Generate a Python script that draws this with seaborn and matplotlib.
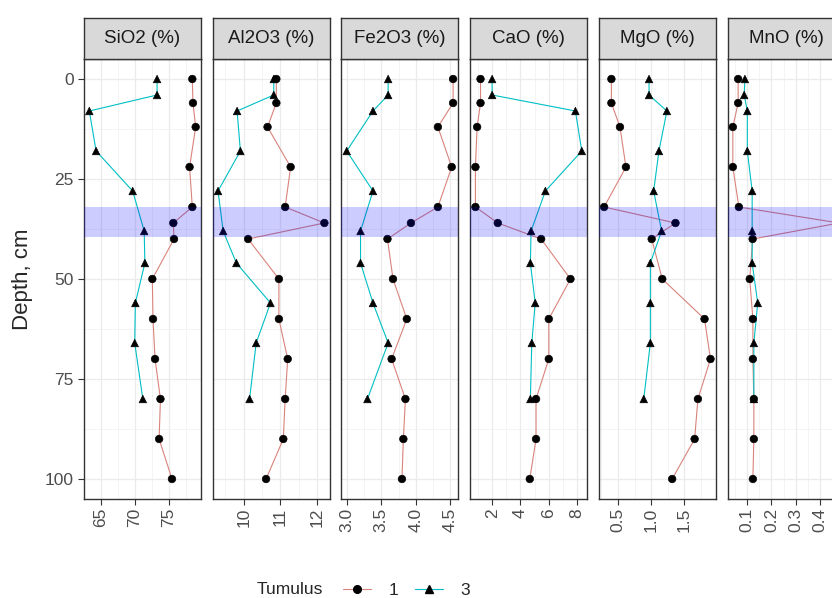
import pandas as pd
import numpy as np
import matplotlib.pyplot as plt
import seaborn as sns
from matplotlib.lines import Line2D
from matplotlib.ticker import AutoMinorLocator

# depths (cm) sampled in each tumulus
depth_t1 = [0, 6, 12, 22, 32, 36, 40, 50, 60, 70, 80, 90, 100]
depth_t3 = [0, 4, 8, 18, 28, 38, 46, 56, 66, 80]

oxides = ["SiO2 (%)", "Al2O3 (%)", "Fe2O3 (%)", "CaO (%)", "MgO (%)", "MnO (%)"]

sio2_t1 = [78.5, 78.6, 79.0, 78.1, 78.5, 75.7, 75.8, 72.6, 72.7, 73.0, 73.8, 73.6, 75.5]
sio2_t3 = [73.3, 73.3, 63.3, 64.3, 69.7, 71.4, 71.5, 70.1, 70.0, 71.2]
al2o3_t1 = [10.89, 10.89, 10.65, 11.28, 11.13, 12.2, 10.12, 10.96, 10.96, 11.2, 11.13, 11.08, 10.61]
al2o3_t3 = [10.82, 10.82, 9.82, 9.91, 9.3, 9.44, 9.8, 10.73, 10.34, 10.16]
fe2o3_t1 = [4.54, 4.54, 4.32, 4.52, 4.32, 3.93, 3.59, 3.67, 3.87, 3.65, 3.85, 3.82, 3.80]
fe2o3_t3 = [3.6, 3.6, 3.38, 3.0, 3.38, 3.2, 3.2, 3.38, 3.6, 3.3]
cao_t1 = [1.18, 1.18, 0.94, 0.82, 0.82, 2.4, 5.46, 7.53, 6.0, 6.0, 5.1, 5.1, 4.66]
cao_t3 = [2.0, 2.0, 7.88, 8.33, 5.76, 4.75, 4.7, 5.04, 4.8, 4.7]
mgo_t1 = [0.40, 0.40, 0.53, 0.62, 0.29, 1.37, 1.01, 1.17, 1.81, 1.90, 1.71, 1.66, 1.32]
mgo_t3 = [0.97, 0.97, 1.24, 1.12, 1.04, 1.16, 0.99, 0.99, 0.99, 0.89]
mno_t1 = [0.062, 0.062, 0.04, 0.04, 0.065, 0.48, 0.122, 0.11, 0.123, 0.123, 0.127, 0.127, 0.123]
mno_t3 = [0.09, 0.087, 0.1, 0.1, 0.12, 0.12, 0.12, 0.143, 0.127, 0.127]

values_t1 = [sio2_t1, al2o3_t1, fe2o3_t1, cao_t1, mgo_t1, mno_t1]
values_t3 = [sio2_t3, al2o3_t3, fe2o3_t3, cao_t3, mgo_t3, mno_t3]

x_ticks = [
    [65, 70, 75],
    [10, 11, 12],
    [3.0, 3.5, 4.0, 4.5],
    [2, 4, 6, 8],
    [0.5, 1.0, 1.5],
    [0.1, 0.2, 0.3, 0.4],
]
y_ticks = [0, 25, 50, 75, 100]
band = (32, 39.5)

rows = []
for ox, v1, v3 in zip(oxides, values_t1, values_t3):
    for d, v in zip(depth_t1, v1):
        rows.append({"Oxide": ox, "Tumulus": "1", "Depth": d, "Value": v})
    for d, v in zip(depth_t3, v3):
        rows.append({"Oxide": ox, "Tumulus": "3", "Depth": d, "Value": v})
df = pd.DataFrame(rows)

sns.set_theme(style="white")
plt.rcParams["font.family"] = ["Liberation Sans", "DejaVu Sans"]

palette = {"1": "#D9837B", "3": "#00BFC4"}
W, H = 832, 598
fig = plt.figure(figsize=(W / 100, H / 100), dpi=100)

panel_left0, panel_step, panel_w = 84, 128.7, 117
panel_top, panel_bot = 59, 499
strip_top = 18

for i, ox in enumerate(oxides):
    left = panel_left0 + i * panel_step
    ax = fig.add_axes([left / W, 1 - panel_bot / H, panel_w / W, (panel_bot - panel_top) / H])
    sub = df[df.Oxide == ox]
    sns.lineplot(data=sub, x="Value", y="Depth", hue="Tumulus", palette=palette,
                 sort=False, orient="y", estimator=None, legend=False,
                 linewidth=0.8, ax=ax, zorder=2)
    sns.scatterplot(data=sub, x="Value", y="Depth", style="Tumulus",
                    markers={"1": "o", "3": "^"}, color="black", edgecolor="black",
                    s=30, legend=False, ax=ax, zorder=3)
    ax.axhspan(band[0], band[1], color="blue", alpha=0.2, lw=0, zorder=5)
    ax.set_ylim(105, -5)
    ax.set_xticks(x_ticks[i])
    ax.xaxis.set_minor_locator(AutoMinorLocator(2))
    ax.set_yticks(y_ticks)
    ax.yaxis.set_minor_locator(AutoMinorLocator(2))
    ax.grid(which="major", color="#EBEBEB", lw=0.9)
    ax.grid(which="minor", color="#F2F2F2", lw=0.6)
    ax.set_axisbelow(True)
    for sp in ax.spines.values():
        sp.set_color("#333333")
        sp.set_linewidth(1.0)
    ax.tick_params(axis="x", rotation=90, labelsize=12.5, labelcolor="#4D4D4D",
                   length=4.5, width=0.8, color="#333333", bottom=True, pad=2)
    ax.tick_params(which="minor", length=0)
    ax.set_xlabel("")
    if i == 0:
        ax.tick_params(axis="y", labelsize=12.5, labelcolor="#4D4D4D", length=4.5,
                       width=0.8, color="#333333", left=True, pad=3)
        ax.set_ylabel("Depth, cm", fontsize=16, labelpad=8)
    else:
        ax.tick_params(axis="y", labelleft=False, left=False)
        ax.set_ylabel("")

    sax = fig.add_axes([left / W, 1 - panel_top / H, panel_w / W, (panel_top - strip_top) / H])
    sax.set_facecolor("#D9D9D9")
    sax.set_xticks([])
    sax.set_yticks([])
    for sp in sax.spines.values():
        sp.set_color("#333333")
        sp.set_linewidth(1.0)
    sax.text(0.5, 0.5, ox, ha="center", va="center", fontsize=13.5, color="#1A1A1A",
             transform=sax.transAxes)

handles = [
    Line2D([], [], color=palette["1"], lw=0.8, marker="o", ms=5.5,
           markerfacecolor="black", markeredgecolor="black"),
    Line2D([], [], color=palette["3"], lw=0.8, marker="^", ms=6,
           markerfacecolor="black", markeredgecolor="black"),
]
fig.text(257 / W, 1 - 590 / H, "Tumulus", ha="left", va="center", fontsize=12.5)
fig.legend(handles, ["1", "3"], loc="center left", bbox_to_anchor=(343 / W, 1 - 590 / H),
           ncol=2, frameon=False, fontsize=12.5, handlelength=1.6, handletextpad=1.0,
           columnspacing=1.0, borderpad=0, borderaxespad=0)

fig.savefig("out.png", dpi=100)
